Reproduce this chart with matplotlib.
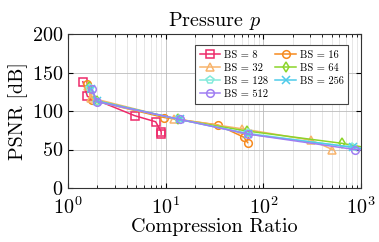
import matplotlib
matplotlib.use("Agg")
import matplotlib.pyplot as plt

plt.rcParams["font.family"] = "cmr10"
plt.rcParams["mathtext.fontset"] = "cm"
plt.rcParams["axes.formatter.use_mathtext"] = True
plt.rcParams["axes.unicode_minus"] = False

labels = ["BS = 8", "BS = 16", "BS = 32", "BS = 64", "BS = 128", "BS = 256", "BS = 512"]
x8 = [1.42, 1.58, 4.8, 7.9, 9.0, 9.0]
y8 = [138, 119, 94, 86, 73, 70]
x16 = [1.58, 1.75, 9.7, 34, 63, 69]
y16 = [135, 114, 91.5, 82, 66, 59]
x32 = [1.6, 1.72, 12.2, 60, 310, 510]
y32 = [133, 117, 90, 77, 62, 50]
x64 = [1.65, 2.0, 13.5, 68, 640, 1300]
y64 = [131, 113, 89, 74, 58, 51]
x128 = [1.68, 2.0, 13.8, 70, 800, 1500]
y128 = [130, 112, 89, 71, 53, 48]
x256 = [1.72, 2.0, 14, 70, 820, 1600]
y256 = [129, 113, 89, 70, 53, 48]
x512 = [1.75, 2.0, 14, 70, 860, 1700]
y512 = [128, 112, 89, 70, 50, 47]

series = [(x8, y8), (x16, y16), (x32, y32), (x64, y64), (x128, y128), (x256, y256), (x512, y512)]
colors = ["#ee2a6a", "#f68a1e", "#f8b46c", "#8cd42a", "#84eadb", "#4ecbea", "#a07ef2"]
markers = ["s", "o", "^", "d", "p", "x", "o"]

fig = plt.figure(figsize=(3.79, 2.42), dpi=100)
ax = fig.add_axes([68 / 379, 1 - 188 / 242, 293 / 379, 154 / 242])

handles = []
for (xs, ys), lab, c, m in zip(series, labels, colors, markers):
    h, = ax.plot(xs, ys, color=c, marker=m, markersize=5.5,
                 markerfacecolor="none" if m != "x" else c,
                 markeredgewidth=1.1, linewidth=1.1, label=lab)
    handles.append(h)

ax.set_xscale("log")
ax.set_xlim(1, 1000)
ax.set_ylim(0, 200)
ax.set_yticks([0, 50, 100, 150, 200])
ax.grid(True, which="major", color="#bbbbbb", linewidth=0.6)
ax.grid(True, which="minor", color="#dddddd", linewidth=0.5)
ax.tick_params(which="both", direction="in", labelsize=14.5, top=True, right=True)
ax.tick_params(axis="x", pad=6)
ax.tick_params(which="minor", length=2)
ax.set_xlabel("Compression Ratio", fontsize=14.5, labelpad=0)
ax.set_ylabel("PSNR [dB]", fontsize=14.5, labelpad=3)
ax.set_title(r"Pressure $p$", fontsize=14.5, pad=6)
for s in ax.spines.values():
    s.set_color("#333333")

order = [0, 2, 4, 6, 1, 3, 5]
leg = ax.legend([handles[i] for i in order], [labels[i] for i in order], ncol=2, fontsize=7.5,
                loc="upper right", bbox_to_anchor=(0.975, 0.96),
                fancybox=False, edgecolor="#444444", framealpha=1, handlelength=2.0,
                columnspacing=0.7, borderpad=0.45, labelspacing=0.35, handletextpad=0.35)
leg.get_frame().set_linewidth(0.8)

fig.savefig("out.png", dpi=100)
